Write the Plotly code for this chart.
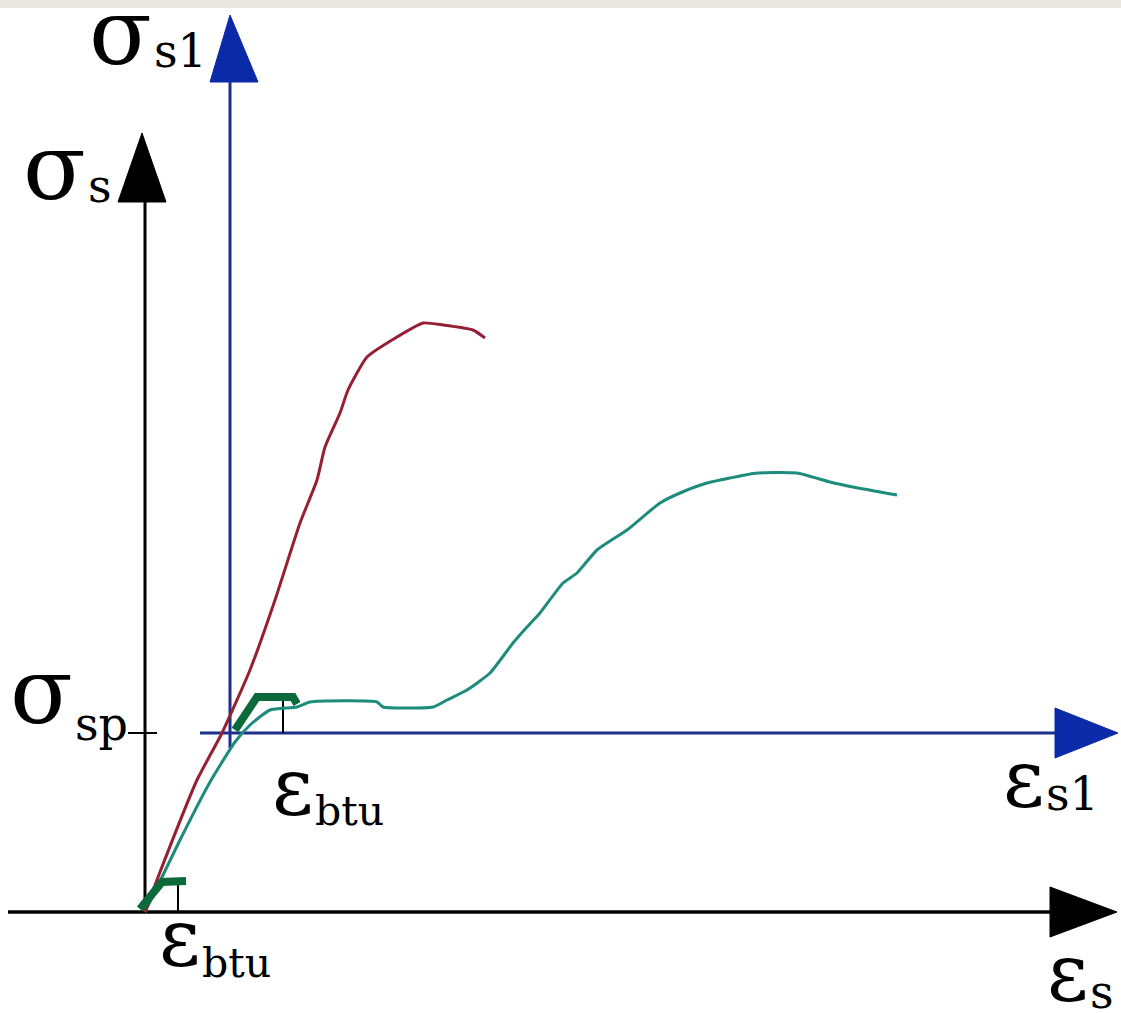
import plotly.graph_objects as go

# ---- data (diagram coordinates: strain eps to the right, stress sig upward, origin at main axes) ----
red_eps = [0, 15, 52, 77, 105, 130, 155, 172, 180, 195, 203, 222, 252, 278, 298, 328, 340]
red_sig = [0, 40, 132, 179, 242, 312, 389, 432, 465, 499, 522, 555, 575, 589, 587, 582, 574]

teal_eps = [0, 35, 65, 90, 105, 125, 152, 165, 232, 238, 288, 302, 322, 345, 368, 382, 395,
            418, 432, 452, 482, 515, 535, 562, 585, 612, 652, 685, 708, 752]
teal_sig = [0, 72, 130, 170, 187, 202, 205, 210, 210, 205, 205, 212, 222, 239, 269, 285, 299,
            329, 339, 362, 382, 409, 419, 429, 434, 439, 439, 430, 425, 417]

green1_eps = [-5, 17, 41]
green1_sig = [3, 30, 31]
green2_eps = [90, 112, 148, 152]
green2_sig = [182, 215, 215, 208]

# secondary origin (shifted axes)
sec_eps0, sec_sig0 = 85, 179
btu_main = 33
btu_sec = 138

labels = [
    # base symbol, subscript, joint eps, base sig, subscript sig, base size
    ("σ", "s1", 8, 880, 861, 92),
    ("σ", "s", -58, 745, 726, 92),
    ("σ", "sp", -71, 221, 188, 92),
    ("ε", "btu", 169, 126, 101, 80),
    ("ε", "btu", 56, -25, -51, 80),
    ("ε", "s1", 900, 134, 118, 80),
    ("ε", "s", 944, -60, -80, 80),
]
SUB_SIZE = 46
BTU_SIZE = 41

BLACK = "#000000"
BLUE = "#1c2f8c"
BLUE_HEAD = "#0b2aa8"
RED = "#962033"
TEAL = "#1e8c7c"
GREEN = "#0b6a3a"

fig = go.Figure()

def seg(xs, ys, color, width, smooth=False):
    line = dict(color=color, width=width)
    if smooth:
        line.update(shape="spline", smoothing=0.5)
    fig.add_trace(go.Scatter(x=xs, y=ys, mode="lines", line=line,
                             hoverinfo="skip", showlegend=False))

def tri(xs, ys, color):
    fig.add_trace(go.Scatter(x=xs + [xs[0]], y=ys + [ys[0]], mode="lines", fill="toself",
                             fillcolor=color, line=dict(color=color, width=1),
                             hoverinfo="skip", showlegend=False))

# main axes (black)
seg([0, 0], [0, 712], BLACK, 3)
tri([-27, 21, -3], [710, 710, 779], BLACK)
seg([-137, 906], [0, 0], BLACK, 3.5)
tri([905, 905, 972], [25, -25, 0], BLACK)

# shifted axes (blue)
seg([sec_eps0, sec_eps0], [sec_sig0 - 15, 832], BLUE, 3)
tri([sec_eps0 - 20, sec_eps0 + 28, sec_eps0], [830, 830, 897], BLUE_HEAD)
seg([sec_eps0 - 30, 911], [sec_sig0, sec_sig0], BLUE, 3)
tri([910, 910, 973], [sec_sig0 + 25, sec_sig0 - 25, sec_sig0], BLUE_HEAD)

# sigma_sp tick
seg([-17, 12], [sec_sig0, sec_sig0], BLACK, 2)

# eps_btu ticks
seg([btu_main, btu_main], [0, 31], BLACK, 2)
seg([btu_sec, btu_sec], [sec_sig0, 213], BLACK, 2)

# curves
seg(teal_eps, teal_sig, TEAL, 3, smooth=True)
seg(red_eps, red_sig, RED, 3, smooth=True)

# green bond marks
seg(green1_eps, green1_sig, GREEN, 8)
seg(green2_eps, green2_sig, GREEN, 8)

for base, sub, x, yb, ys, s in labels:
    fig.add_annotation(x=x, y=yb, xref="x", yref="y", text=base, showarrow=False,
                       font=dict(family="DejaVu Serif", size=s, color="black"),
                       xanchor="right", yanchor="middle", borderpad=0)
    fig.add_annotation(x=x, y=ys, xref="x", yref="y", text=sub, showarrow=False,
                       font=dict(family="DejaVu Serif",
                                 size=BTU_SIZE if sub == "btu" else SUB_SIZE, color="black"),
                       xanchor="left", yanchor="middle", borderpad=0)

fig.add_shape(type="rect", xref="paper", yref="paper", x0=0, x1=1, y0=1 - 8 / 1013, y1=1,
              fillcolor="#ebe7e3", line=dict(width=0), layer="below")

fig.update_layout(
    width=1121, height=1013,
    margin=dict(l=0, r=0, t=0, b=0),
    paper_bgcolor="white", plot_bgcolor="white",
    xaxis=dict(range=[-145, 976], visible=False, fixedrange=True),
    yaxis=dict(range=[-101, 912], visible=False, fixedrange=True),
    showlegend=False,
)

fig.write_html("out.html", config={"displayModeBar": False},
               post_script="document.body.style.margin='0px';document.body.style.overflow='hidden';")
